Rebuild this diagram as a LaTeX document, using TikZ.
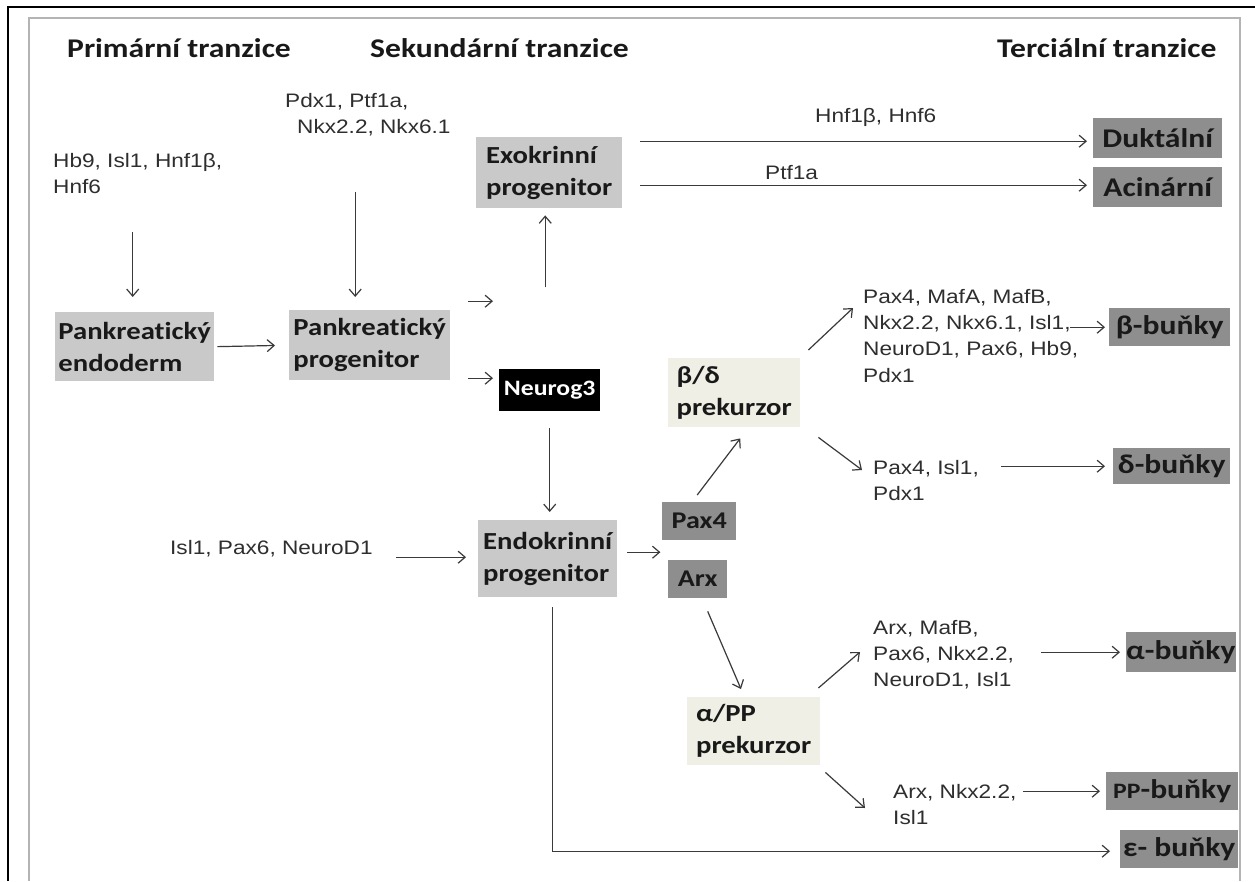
\documentclass[tikz,border=0pt]{standalone}
\usepackage{fontspec}
\usetikzlibrary{arrows.meta,calc}
\newfontfamily\cbf{Carlito}[FakeStretch=1.17,Ligatures=NoCommon]
\newfontfamily\gsf{Liberation Sans}[FakeStretch=1.16]
\definecolor{boxg}{HTML}{C9C9C9}
\definecolor{darkg}{HTML}{8E8E8E}
\definecolor{prec}{HTML}{EFEFE6}
\definecolor{arrc}{HTML}{3A3A3A}
\definecolor{genec}{HTML}{2E2E2E}
\definecolor{frameg}{HTML}{B4B4B4}
\begin{document}
\begin{tikzpicture}[x=1pt,y=-1pt,
  arr/.style={draw=arrc, line width=1.2pt, -{Straight Barb[length=7pt,width=12pt]}},
  gene/.style={font=\gsf\fontsize{19.5}{26.3}\selectfont, text=genec, inner sep=0pt, anchor=north west, align=left},
  head/.style={font=\cbf\bfseries\fontsize{27}{32}\selectfont, text=black!90, inner sep=0pt, anchor=base west},
  bx/.style={fill=boxg, font=\cbf\bfseries\fontsize{24.5}{32}\selectfont, text=black!90, align=left, inner sep=0pt, anchor=north west},
  dbx/.style={bx, fill=darkg},
  tbx/.style={bx, fill=darkg, font=\cbf\bfseries\fontsize{27}{32}\selectfont},
  pre/.style={bx, fill=prec}]
\useasboundingbox (0,0) rectangle (1255,881);
\fill[white] (0,0) rectangle (1255,881);
\draw[line width=2.5pt] (8,881) -- (8,7) -- (1255,7);
\draw[frameg, line width=1.5pt] (29,881) -- (29,18) -- (1240,18) -- (1240,881);
% headings
\node[head] (h1) at (67,57) {Primární tranzice};
\node[head] (h2) at (370,57) {Sekundární tranzice};
\node[head] (h3) at (997,57) {Terciální tranzice};
% boxes
\node[bx, minimum width=159pt, minimum height=69pt] (endo) at (55,312) {Pankreat\kern0ptický\\endoderm};
\node[bx, minimum width=161pt, minimum height=70pt] (pprog) at (289,310) {Pankreat\kern0ptický\\progenitor};
\node[bx, fill=black, text=white, minimum width=101pt, minimum height=42pt, font=\cbf\bfseries\fontsize{22}{26}\selectfont] (neuro) at (499,369) {Neurog3};
\node[bx, minimum width=146pt, minimum height=71pt] (exo) at (476,137) {Exokrinní\\progenitor};
\node[bx, minimum width=139pt, minimum height=77pt] (endokr) at (478,520) {Endokrinní\\progenitor};
\node[dbx, minimum width=74pt, minimum height=38pt, font=\cbf\bfseries\fontsize{24}{28}\selectfont] (pax4) at (662,502) {Pax4};
\node[dbx, minimum width=59pt, minimum height=38pt, font=\cbf\bfseries\fontsize{24}{28}\selectfont] (arx) at (668,560) {Arx};
\node[pre, minimum width=132pt, minimum height=69pt] (bd) at (668,358) {β/δ\\prekurzor};
\node[pre, minimum width=133pt, minimum height=68pt] (apP) at (687,697) {α/PP\\prekurzor};
\node[tbx, minimum width=129pt, minimum height=40pt] (dukt) at (1093,118) {Duktální};
\node[tbx, minimum width=129pt, minimum height=40pt] (acin) at (1093,167) {Acinární};
\node[tbx, minimum width=121pt, minimum height=38pt] (beta) at (1109,308) {β-buňky};
\node[tbx, minimum width=117pt, minimum height=36pt] (delta) at (1113,448) {δ-buňky};
\node[tbx, minimum width=108pt, minimum height=40pt] (alpha) at (1126,632) {α-buňky};
\node[tbx, minimum width=132pt, minimum height=38pt] (pp) at (1106,772) {{\fontsize{22}{26}\selectfont PP}-buňky};
\node[tbx, minimum width=118pt, minimum height=38pt] (eps) at (1120,830) {ε- buňky};
% gene labels
\node[gene] (g1) at (53,153) {Hb9, Isl1, Hnf1β,\\Hnf6};
\node[gene] (g2) at (285,93) {Pdx1, Ptf1a,\\\hspace*{12pt}Nkx2.2, Nkx6.1};
\node[gene] (g3) at (815,108) {Hnf1β, Hnf6};
\node[gene] (g4) at (765,165) {Ptf1a};
\node[gene] (g5) at (170,540) {Isl1, Pax6, NeuroD1};
\node[gene] (g6) at (863,289) {Pax4, MafA, MafB,\\Nkx2.2, Nkx6.1, Isl1,\\NeuroD1, Pax6, Hb9,\\Pdx1};
\node[gene] (g7) at (873,460) {Pax4, Isl1,\\Pdx1};
\node[gene] (g8) at (873,620) {Arx, MafB,\\Pax6, Nkx2.2,\\NeuroD1, Isl1};
\node[gene] (g9) at (893,784) {Arx, Nkx2.2,\\Isl1};
% arrows
\draw[arr, shorten >=15pt] ($(endo.north)+(-2,-80)$) -- ($(endo.north)+(-2,0)$);
\draw[arr, shorten >=13pt] ($(pprog.north)+(-14.5,-118)$) -- ($(pprog.north)+(-14.5,0)$);
\draw[arr, shorten <=3pt, shorten >=14pt] (endo.east) -- (pprog.west);
\draw[arr] ($(neuro.west)+(-31,-89)$) -- ($(neuro.west)+(-6,-89)$);
\draw[arr, shorten >=6pt] ($(neuro.west)+(-31,-12)$) -- ($(neuro.west)+(0,-12)$);
\draw[arr, shorten >=7pt] ($(exo.south)+(-4,79)$) -- ($(exo.south)+(-4,0)$);
\draw[arr, shorten >=6pt] ($(exo.east)+(18,-31.5)$) -- ($(dukt.west)+(0,3)$);
\draw[arr, shorten >=6pt] ($(exo.east)+(18,12.5)$) -- ($(acin.west)+(0,-2)$);
\draw[arr, shorten <=17pt, shorten >=8pt] (neuro.south) -- (neuro.south |- endokr.north);
\draw[arr, shorten >=12pt] ($(endokr.west)+(-82,-1.5)$) -- ($(endokr.west)+(0,-1.5)$);
\draw[arr, shorten <=10pt] ($(endokr.east)+(0,-6.5)$) -- ($(endokr.east)+(43,-6.5)$);
\draw[arr] ($(pax4.north)+(-2,-7)$) -- ($(bd.south)+(6,11)$);
\draw[arr] ($(bd.north east)+(8,-8)$) -- ($(g6.north west)+(-10,19)$);
\draw[arr] ($(bd.south east)+(18,10)$) -- ($(g7.north west)+(-11,10)$);
\draw[arr, shorten >=4pt] ($(beta.west)+(-39,0)$) -- (beta.west);
\draw[arr, shorten >=8pt] ($(delta.west)+(-112,0)$) -- (delta.west);
\draw[arr] ($(arx.south)+(10,13)$) -- ($(apP.north west)+(54,-8)$);
\draw[arr] ($(apP.north east)+(-2,-9)$) -- ($(g8.north west)+(-13,32)$);
\draw[arr] ($(apP.south east)+(5,7)$) -- ($(g9.north west)+(-28,24)$);
\draw[arr, shorten >=6pt] ($(alpha.west)+(-85,0)$) -- (alpha.west);
\draw[arr, shorten >=6pt] ($(pp.west)+(-83,0)$) -- (pp.west);
\draw[arr, shorten <=10pt, shorten >=10pt] ([xshift=5pt]endokr.south) |- ([yshift=-2pt]eps.west);
\end{tikzpicture}
\end{document}
